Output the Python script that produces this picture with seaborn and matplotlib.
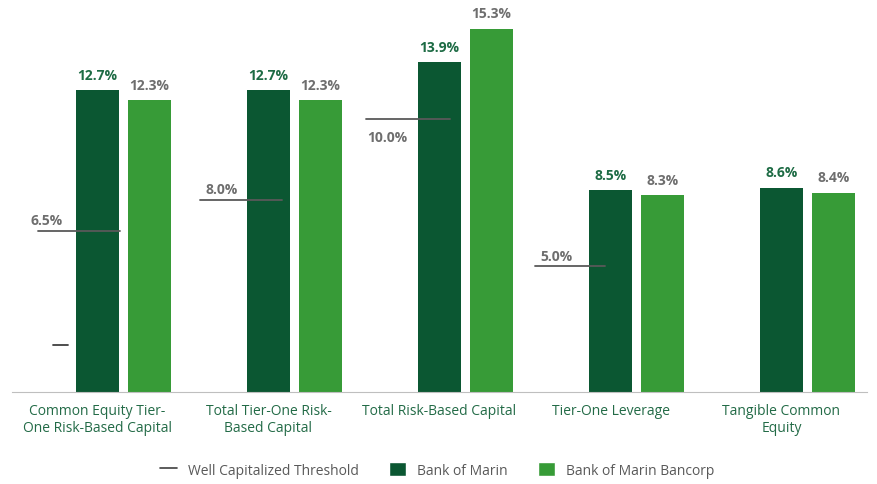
import numpy as np
import pandas as pd
import matplotlib.pyplot as plt
import seaborn as sns
from matplotlib.lines import Line2D
from matplotlib.patches import Patch

categories = ['Common Equity Tier-\nOne Risk-Based Capital', 'Total Tier-One Risk-\nBased Capital',
              'Total Risk-Based Capital', 'Tier-One Leverage', 'Tangible Common\nEquity']
bank = [12.7, 12.7, 13.9, 8.5, 8.6]
bancorp = [12.3, 12.3, 15.3, 8.3, 8.4]
threshold_labels = ['6.5%', '8.0%', '10.0%', '5.0%']
threshold_drawn = [6.8, 8.1, 11.5, 5.3]   # heights the lines sit at in the picture

dark = '#0b5732'
light = '#379b37'
gray = '#595959'

sns.set_style('white')
plt.rcParams['font.family'] = ['Open Sans', 'DejaVu Sans']

df = pd.DataFrame({
    'cat': categories * 3,
    'series': ['Well Capitalized Threshold'] * 5 + ['Bank of Marin'] * 5 + ['Bank of Marin Bancorp'] * 5,
    'value': [np.nan] * 5 + bank + bancorp,
})

fig = plt.figure(figsize=(8.77, 4.85), dpi=100)
ax = fig.add_axes([12 / 877, 92 / 485, 855 / 877, 380 / 485])

sns.barplot(data=df, x='cat', y='value', hue='series',
            hue_order=['Well Capitalized Threshold', 'Bank of Marin', 'Bank of Marin Bancorp'],
            palette=['white', dark, light], saturation=1, width=0.912, gap=0.16,
            linewidth=0, ax=ax, legend=False)

ax.set_ylim(0, 16)
ax.set_xlim(-0.5, 4.5)
ax.set_xlabel('')
ax.set_ylabel('')
ax.set_yticks([])
for s in ['top', 'right', 'left']:
    ax.spines[s].set_visible(False)
ax.spines['bottom'].set_color('#bfbfbf')
ax.tick_params(axis='x', length=0, pad=8, labelsize=10, labelcolor='#236b47')
ax.set_xticks(np.arange(-0.5, 5.0, 1.0), minor=True)
ax.tick_params(axis='x', which='minor', length=7, color='#bfbfbf', direction='out')

off = 0.304
for i in range(5):
    ax.text(i, bank[i] + 0.35, f'{bank[i]:.1f}%', ha='center', va='bottom',
            fontsize=10, fontweight='bold', color='#1d6b44')
    ax.text(i + off, bancorp[i] + 0.35, f'{bancorp[i]:.1f}%', ha='center', va='bottom',
            fontsize=10, fontweight='bold', color='#6e6e6e')

# line spans relative to the group centre, as drawn in the picture
spans = [(-0.35, 0.13), (-0.40, 0.08), (-0.43, 0.06), (-0.44, -0.03)]
for i, (lab, h) in enumerate(zip(threshold_labels, threshold_drawn)):
    x0, x1 = i + spans[i][0], i + spans[i][1]
    ax.plot([x0, x1], [h, h], color='#595959', lw=1.3, zorder=5)
    if i == 2:
        ax.text(x0 + 0.01, h - 0.45, lab, ha='left', va='top', fontsize=10, fontweight='bold', color='#6e6e6e')
    else:
        ax.text(x0 - 0.04 if i == 0 else x0 + 0.03, h + 0.15, lab, ha='left', va='bottom',
                fontsize=10, fontweight='bold', color='#6e6e6e')

# small stray dash in the first group
ax.plot([-0.26, -0.17], [2.0, 2.0], color='#404040', lw=1.3)

handles = [Line2D([0], [0], color='#404040', lw=1.2),
           Patch(facecolor=dark), Patch(facecolor=light)]
labels = ['Well Capitalized Threshold', 'Bank of Marin', 'Bank of Marin Bancorp']
leg = fig.legend(handles, labels, loc='center', bbox_to_anchor=(437 / 877, 1 - 471 / 485), ncol=3,
                 frameon=False, fontsize=10, handlelength=1.2, handleheight=1.2, columnspacing=2.2,
                 handletextpad=0.8)
for t in leg.get_texts():
    t.set_color(gray)

fig.savefig('out.png', dpi=100)
